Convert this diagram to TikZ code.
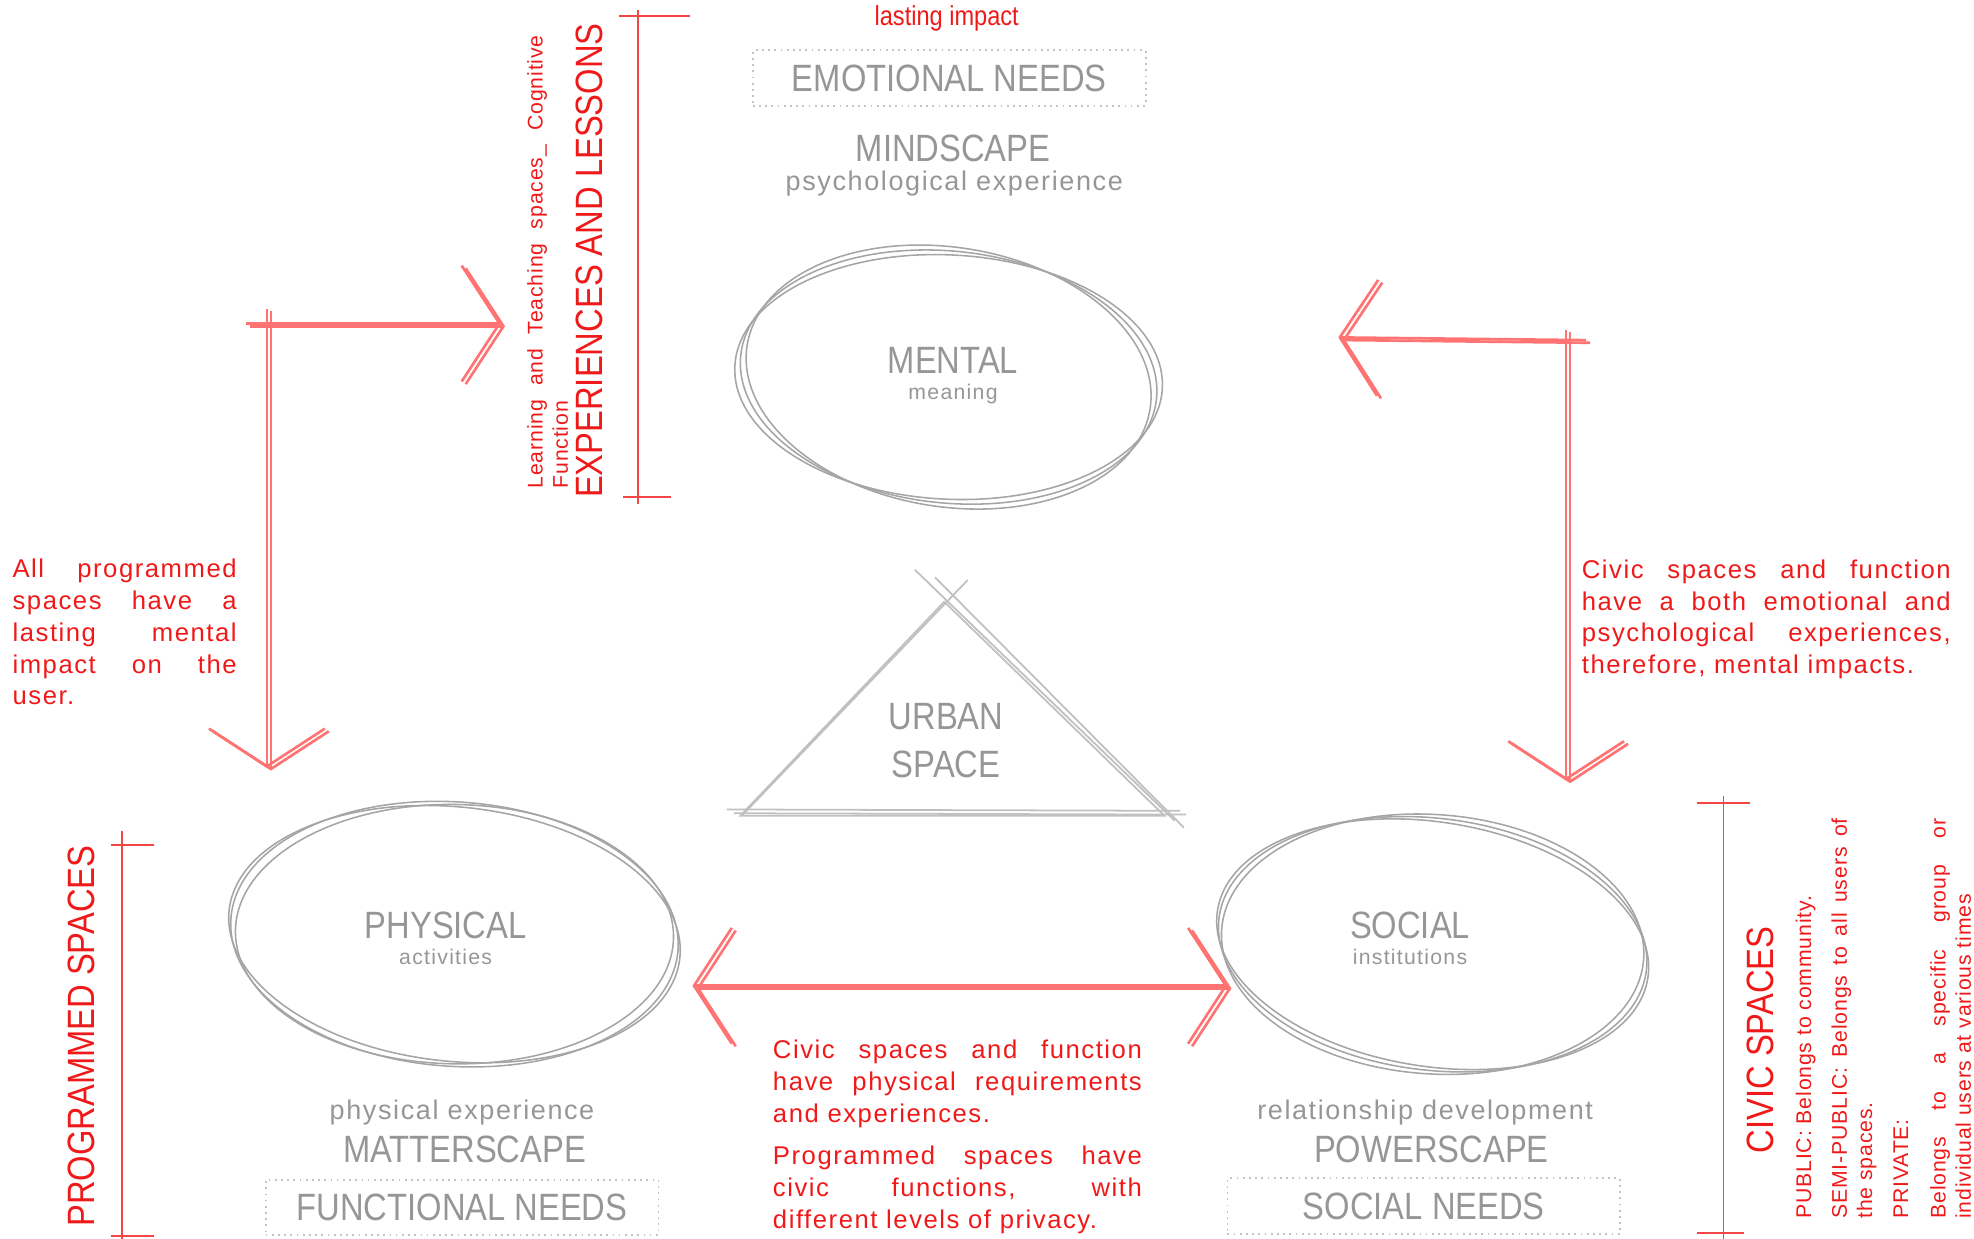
\documentclass[tikz,border=0pt]{standalone}
\usepackage{fontspec}
\setmainfont{Liberation Sans}
\newfontfamily\condfont[FakeStretch=0.86]{Liberation Sans}
\newfontfamily\widefont[LetterSpace=6]{Liberation Sans}
\newfontfamily\smallwidefont[LetterSpace=4]{Liberation Sans}
\usepackage{xcolor}
\usetikzlibrary{positioning, calc, arrows.meta}

\definecolor{inkgray}{RGB}{150,150,150}
\definecolor{linegray}{RGB}{165,165,165}
\definecolor{trigray}{RGB}{192,192,192}
\definecolor{boxgray}{RGB}{195,195,195}
\definecolor{inkred}{RGB}{240,25,25}
\definecolor{arrowred}{RGB}{255,115,115}

\tikzset{
  caps/.style={font=\condfont\fontsize{8.6}{10}\selectfont, text=inkgray, inner sep=0pt},
  subcaps/.style={font=\widefont\fontsize{6.1}{7}\selectfont, text=inkgray, inner sep=0pt},
  tinygray/.style={font=\widefont\fontsize{4.8}{6}\selectfont, text=inkgray, inner sep=0pt},
  needbox/.style={caps, draw=boxgray, densely dotted, line width=0.4pt, minimum width=3.12cm, minimum height=0.44cm},
  redcaps/.style={font=\condfont\fontsize{8.6}{10}\selectfont, text=inkred, inner sep=0pt},
  redpara/.style={font=\widefont\fontsize{5.8}{7.2}\selectfont, text=inkred, align=justify, inner sep=0pt},
  rednote/.style={font=\smallwidefont\fontsize{4.8}{5.7}\selectfont, text=inkred, align=justify, inner sep=0pt},
  sketch/.style={draw=linegray, line width=0.35pt},
  trisketch/.style={draw=trigray, line width=0.4pt},
  bracket/.style={draw=inkred!80, line width=0.45pt},
  redarrow/.style={draw=arrowred, line width=0.6pt, >={Straight Barb[length=3mm, width=9.2mm]}, ->},
}

\begin{document}
\begin{tikzpicture}
    \useasboundingbox (0,0) rectangle (15.68,-9.84);

    % 1. Mental sphere on top
    \node[redcaps, font=\condfont\fontsize{6.2}{7}\selectfont] (lasting) at (7.52,-0.15) {lasting impact};
    \node[needbox] (emotional) at (7.54,-0.62) {EMOTIONAL NEEDS};
    \node[caps] (mindscape) at (7.57,-1.18) {MINDSCAPE};
    \node[subcaps] (psycho) at (7.58,-1.46) {psychological experience};

    \coordinate (mentalc) at (7.535,-2.995);
    \foreach \r/\a/\b in {-6/1.66/1.00, -9/1.62/1.03, -3/1.70/0.97}
        \draw[sketch, rotate around={\r:(mentalc)}] (mentalc) ellipse [x radius=\a, y radius=\b];
    \node[caps] (mental) at (7.57,-2.86) {MENTAL};
    \node[tinygray, below=0.7mm of mental] (meaning) {meaning};

    % 2. Urban space triangle in the middle
    \coordinate (tapex) at (7.50,-4.78);
    \coordinate (tleft) at (5.88,-6.48);
    \coordinate (tright) at (9.25,-6.48);
    \draw[trisketch] (tleft) -- (tapex) -- (tright) -- cycle;
    \draw[trisketch, shorten <=-2pt, shorten >=-10pt] ($(tright)+(0.03,0.01)$) -- ($(tapex)+(0.02,0.01)$);
    \draw[trisketch, shorten <=-3pt, shorten >=-7pt] ($(tright)+(0.08,-0.02)$) -- ($(tapex)+(0.10,0.02)$);
    \draw[trisketch, shorten <=-1pt, shorten >=-6pt] ($(tleft)+(0.04,0.03)$) -- ($(tapex)+(0.04,0.02)$);
    \draw[trisketch, shorten <=-3pt, shorten >=-3pt] ($(tleft)+(0,0.05)$) -- ($(tright)+(0.02,0.04)$);
    \draw[trisketch, shorten <=-2pt, shorten >=-4pt] ($(tleft)+(0.02,0.02)$) -- ($(tright)+(0.03,0.01)$);
    \node[caps, align=center] (urban) at (7.515,-5.88) {URBAN\\[0.8pt]SPACE};

    % 3. Physical sphere, bottom left
    \coordinate (physc) at (3.61,-7.42);
    \foreach \r/\a/\b in {-4/1.78/1.05, -1/1.74/1.03, -6/1.80/1.01}
        \draw[sketch, rotate around={\r:(physc)}] (physc) ellipse [x radius=\a, y radius=\b];
    \node[caps] (physical) at (3.54,-7.35) {PHYSICAL};
    \node[tinygray, below=0.7mm of physical] (activities) {activities};
    \node[subcaps] (physexp) at (3.67,-8.84) {physical experience};
    \node[caps] (matterscape) at (3.69,-9.13) {MATTERSCAPE};
    \node[needbox] (functional) at (3.67,-9.59) {FUNCTIONAL NEEDS};

    % 4. Social sphere, bottom right
    \coordinate (socc) at (11.38,-7.50);
    \foreach \r/\a/\b in {-7/1.71/1.00, -4/1.68/1.03, -9/1.73/0.97}
        \draw[sketch, rotate around={\r:(socc)}] (socc) ellipse [x radius=\a, y radius=\b];
    \node[caps] (social) at (11.20,-7.35) {SOCIAL};
    \node[tinygray, below=0.7mm of social] (institutions) {institutions};
    \node[subcaps] (reldev) at (11.32,-8.84) {relationship development};
    \node[caps] (powerscape) at (11.37,-9.13) {POWERSCAPE};
    \node[needbox] (socialneeds) at (11.31,-9.58) {SOCIAL NEEDS};

    % 5. Red notes
    \node[redpara, text width=1.78cm] (leftnote) at (0.99,-5.02)
        {All programmed\linebreak spaces have a\linebreak lasting mental\linebreak impact on the\linebreak user.};
    \node[redpara, text width=2.93cm] (rightnote) at (14.03,-4.92)
        {Civic spaces and function\linebreak have a both emotional and\linebreak psychological experiences,\linebreak therefore, mental impacts.};
    \node[redpara, text width=2.93cm] (bottomnote) at (7.605,-9.03)
        {Civic spaces and function\linebreak have physical requirements\linebreak and experiences.\par\vspace{2.3pt}
         Programmed spaces have\linebreak civic functions, with\linebreak different levels of privacy.};

    % 6. Brackets with vertical labels
    \draw[bracket] (5.07,-0.08) -- (5.07,-4.00);
    \draw[bracket] (4.92,-0.13) -- (5.48,-0.13);
    \draw[bracket] (4.95,-3.95) -- (5.33,-3.95);
    \node[redcaps, rotate=90] (lessons) at (4.68,-2.07) {EXPERIENCES AND LESSONS};
    \node[rednote, rotate=90, text width=3.6cm] (learning) at (4.35,-2.08)
        {Learning and Teaching spaces\_ Cognitive\linebreak Function};

    \draw[bracket] (0.97,-6.60) -- (0.97,-9.86);
    \draw[bracket] (0.88,-6.71) -- (1.22,-6.71);
    \draw[bracket] (0.88,-9.82) -- (1.22,-9.82);
    \node[redcaps, rotate=90] (programmed) at (0.65,-8.23) {PROGRAMMED SPACES};

    \draw[bracket] (13.69,-6.32) -- (13.69,-9.86);
    \draw[bracket] (13.48,-6.38) -- (13.90,-6.38);
    \draw[bracket] (13.48,-9.79) -- (13.85,-9.79);
    \node[redcaps, rotate=90] (civic) at (13.98,-8.26) {CIVIC SPACES};
    \node[rednote, rotate=90, text width=3.18cm] (privacy) at (14.96,-8.09)
        {PUBLIC: Belongs to community.\par\vspace{2.4pt}
         SEMI-PUBLIC: Belongs to all users of\linebreak the spaces.\par\vspace{2.4pt}
         PRIVATE:\par\vspace{2.8pt}
         Belongs to a specific group or\linebreak individual users at various times};

    % 7. Red arrows between the spheres
    \coordinate (leftbend) at (2.12,-2.57);
    \coordinate (toPhysical) at (2.12,-6.10);
    \coordinate (toMental) at (3.98,-2.57);
    \coordinate (rightbend) at (12.44,-2.70);
    \coordinate (toSocial) at (12.44,-6.20);
    \coordinate (toMentalR) at (10.63,-2.68);
    \coordinate (physEnd) at (5.50,-7.83);
    \coordinate (socEnd) at (9.75,-7.83);
    \foreach \dx/\dy in {0pt/0pt, 0.9pt/-0.6pt}{
        \begin{scope}[transform canvas={shift={(\dx,\dy)}}]
            \draw[redarrow, shorten <=-3.4pt] (leftbend) -- (toPhysical);
            \draw[redarrow, shorten <=-4.8pt] (leftbend) -- (toMental);
            \draw[redarrow, shorten <=-2.3pt] (rightbend) -- (toSocial);
            \draw[redarrow, shorten <=-4.5pt] (rightbend) -- (toMentalR);
            \draw[redarrow, <->] (physEnd) -- (socEnd);
        \end{scope}
    }
\end{tikzpicture}
\end{document}
